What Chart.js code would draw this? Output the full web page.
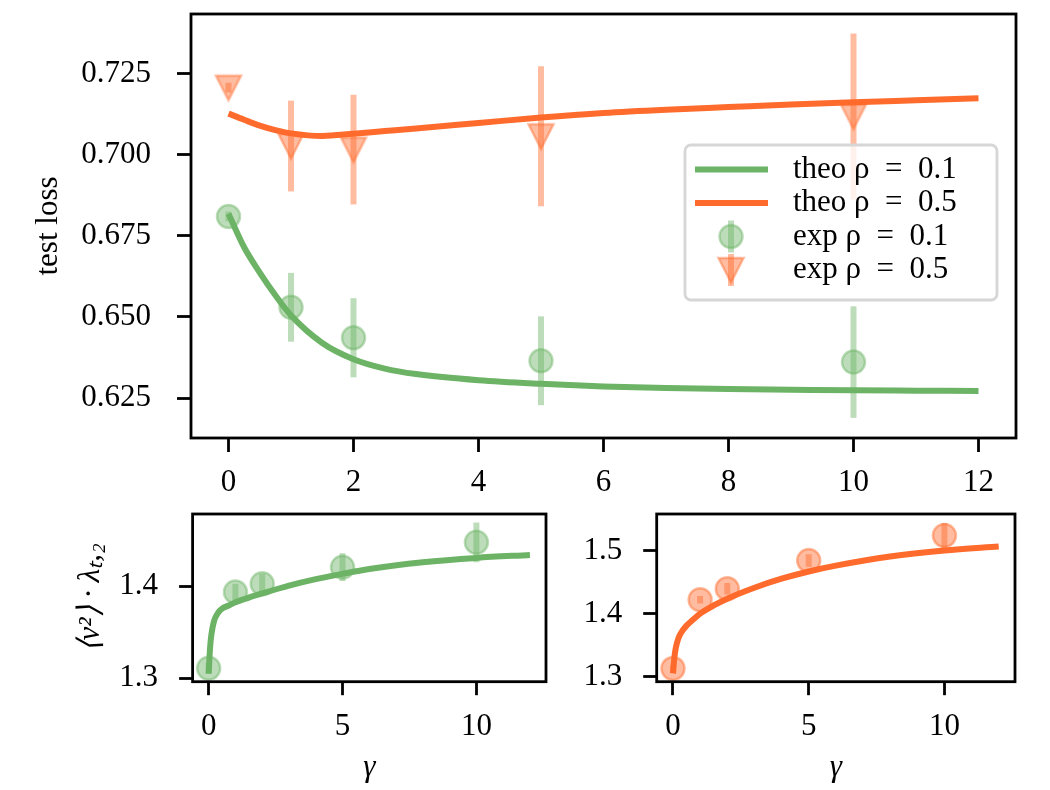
<!DOCTYPE html>
<html>
<head>
<meta charset="utf-8">
<script src="https://cdn.jsdelivr.net/npm/chart.js@4.4.1/dist/chart.umd.min.js"></script>
<style>
  html, body { margin: 0; padding: 0; background: #fff; }
  #wrap { position: relative; width: 1050px; height: 790px; }
  canvas { position: absolute; }
</style>
</head>
<body>
<div id="wrap">
  <canvas id="top-chart" width="1050" height="500" style="left:0px;top:0px"></canvas>
  <canvas id="left-chart" width="560" height="290" style="left:0px;top:500px"></canvas>
  <canvas id="right-chart" width="490" height="290" style="left:560px;top:500px"></canvas>
</div>
<script>
// Data
const gammaExp = [0, 1, 2, 5, 10];

// top panel: test loss
const gammaTheo = [0, 0.25, 0.5, 0.75, 1, 1.5, 2, 2.5, 3, 4, 5, 6, 7, 8, 9, 10, 11, 12];
const theoLoss01 = [0.6818, 0.6715, 0.6637, 0.6567, 0.6505, 0.6420, 0.6370, 0.6341, 0.6324, 0.6305, 0.6294, 0.6286, 0.6281, 0.6278, 0.6276, 0.6274, 0.6273, 0.6272];
const theoLoss05 = [0.7127, 0.7108, 0.7090, 0.7076, 0.7066, 0.7058, 0.7065, 0.7073, 0.7081, 0.7098, 0.7115, 0.7129, 0.7139, 0.7147, 0.7155, 0.7162, 0.7168, 0.7174];
const expLoss01 = [0.6810, 0.6530, 0.6436, 0.6365, 0.6361];
const expLoss01Err = [0.0015, 0.0106, 0.0122, 0.0137, 0.0172];
const expLoss05 = [0.7207, 0.7027, 0.7016, 0.7057, 0.7118];
const expLoss05Err = [0.0015, 0.0140, 0.0169, 0.0216, 0.0256];

// bottom panels: <v^2> * lambda
const gammaTheoSmall = [0, 0.05, 0.1, 0.2, 0.35, 0.5, 0.75, 1, 1.5, 2, 3, 4, 5, 6, 8, 10, 12];
const theoV01 = [1.305, 1.332, 1.347, 1.362, 1.371, 1.3755, 1.379, 1.3825, 1.3875, 1.392, 1.4005, 1.4075, 1.4133, 1.4185, 1.4258, 1.4306, 1.4338];
const theoV05 = [1.3053, 1.330, 1.345, 1.361, 1.373, 1.381, 1.391, 1.400, 1.413, 1.4237, 1.441, 1.4553, 1.4668, 1.476, 1.4905, 1.500, 1.5063];
const expV01 = [1.3108, 1.3935, 1.4025, 1.4205, 1.4475];
const expV01Err = [0.006, 0.009, 0.011, 0.015, 0.0216];
const expV05 = [1.3132, 1.4221, 1.4395, 1.4842, 1.5237];
const expV05Err = [0.004, 0.006, 0.009, 0.010, 0.020];

// ticks
const xTicksTop = [0, 2, 4, 6, 8, 10, 12];
const yTicksTop = [0.625, 0.650, 0.675, 0.700, 0.725];
const xTicksSmall = [0, 5, 10];
const yTicksLeft = [1.3, 1.4];
const yTicksRight = [1.3, 1.4, 1.5];

const GREEN = '108,179,102';
const ORANGE = '255,107,44';
const FONT = "'Liberation Serif', 'Times New Roman', serif";

Chart.defaults.font.family = FONT;
Chart.defaults.font.size = 31;
Chart.defaults.color = '#000';

/**
 * Downward triangle marker (matplotlib 'v'), drawn once to a small canvas
 */
function triangleDown(rgb) {
    const cv = document.createElement('canvas');
    cv.width = 32;
    cv.height = 32;
    const g = cv.getContext('2d');
    g.beginPath();
    g.moveTo(3.5, 4);
    g.lineTo(28.5, 4);
    g.lineTo(16, 28.5);
    g.closePath();
    g.fillStyle = `rgba(${rgb},0.45)`;
    g.fill();
    g.lineWidth = 2.5;
    g.strokeStyle = `rgba(${rgb},0.45)`;
    g.stroke();
    return cv;
}

function lineSet(label, xs, ys, rgb) {
    return {
        label: label,
        data: xs.map((x, i) => ({ x: x, y: ys[i] })),
        showLine: true,
        borderColor: `rgb(${rgb})`,
        borderWidth: 6,
        pointRadius: 0,
        cubicInterpolationMode: 'monotone',
        order: 1
    };
}

function pointSet(label, xs, ys, errs, rgb, style) {
    return {
        label: label,
        data: xs.map((x, i) => ({ x: x, y: ys[i] })),
        errors: errs,
        errorColor: `rgba(${rgb},0.45)`,
        showLine: false,
        pointStyle: style,
        pointRadius: 11.5,
        pointBorderWidth: 2.5,
        pointBackgroundColor: `rgba(${rgb},0.45)`,
        pointBorderColor: `rgba(${rgb},0.45)`,
        order: 0
    };
}

// Frame on all four sides (matplotlib spines)
const frame = {
    id: 'frame',
    afterDraw(chart) {
        const { ctx, chartArea: a } = chart;
        ctx.save();
        ctx.strokeStyle = '#000';
        ctx.lineWidth = 2.8;
        ctx.strokeRect(a.left, a.top, a.right - a.left, a.bottom - a.top);
        ctx.restore();
    }
};

// Vertical error bars, placed just under the markers
const errorBars = {
    id: 'errorBars',
    beforeDatasetDraw(chart, args) {
        const ds = chart.data.datasets[args.index];
        if (!ds.errors) return;
        const { ctx, chartArea: a } = chart;
        const xs = chart.scales.x, ys = chart.scales.y;
        ctx.save();
        ctx.beginPath();
        ctx.rect(a.left, a.top, a.right - a.left, a.bottom - a.top);
        ctx.clip();
        ctx.strokeStyle = ds.errorColor;
        ctx.lineWidth = 6;
        ds.data.forEach((p, i) => {
            const px = xs.getPixelForValue(p.x);
            ctx.beginPath();
            ctx.moveTo(px, ys.getPixelForValue(p.y - ds.errors[i]));
            ctx.lineTo(px, ys.getPixelForValue(p.y + ds.errors[i]));
            ctx.stroke();
        });
        ctx.restore();
    }
};

// Legend box inside the top panel
const legendBox = {
    id: 'legendBox',
    afterDraw(chart) {
        const { ctx, chartArea: a } = chart;
        const left = a.right - 331, top = a.top + 131, w = 312, h = 155;
        ctx.save();
        ctx.beginPath();
        ctx.roundRect(left, top, w, h, 6);
        ctx.fillStyle = 'rgba(255,255,255,0.8)';
        ctx.fill();
        ctx.lineWidth = 2.8;
        ctx.strokeStyle = '#d6d6d6';
        ctx.stroke();

        ctx.font = `31px ${FONT}`;
        ctx.textBaseline = 'middle';
        chart.data.datasets.forEach((ds, i) => {
            const y = top + 24.5 + i * 33.5;
            const cx = left + 46;
            if (ds.showLine) {
                ctx.strokeStyle = ds.borderColor;
                ctx.lineWidth = ds.borderWidth;
                ctx.beginPath();
                ctx.moveTo(left + 10, y);
                ctx.lineTo(left + 83, y);
                ctx.stroke();
            } else {
                ctx.strokeStyle = ds.errorColor;
                ctx.lineWidth = 6;
                ctx.beginPath();
                ctx.moveTo(cx, y - 16);
                ctx.lineTo(cx, y + 16);
                ctx.stroke();
                ctx.fillStyle = ds.pointBackgroundColor;
                ctx.strokeStyle = ds.pointBorderColor;
                ctx.lineWidth = ds.pointBorderWidth;
                Chart.helpers.drawPoint(ctx, {
                    pointStyle: ds.pointStyle, radius: ds.pointRadius,
                    borderWidth: ds.pointBorderWidth, rotation: 0
                }, cx, y);
            }
            ctx.fillStyle = '#000';
            ctx.fillText(ds.label, left + 108, y);
        });
        ctx.restore();
    }
};

function xAxis(o) {
    return {
        type: 'linear',
        min: -0.6,
        max: 12.6,
        afterBuildTicks: s => { s.ticks = o.ticks.map(v => ({ value: v })); },
        afterFit: s => { s.height = o.height; s.paddingLeft = 0; s.paddingRight = 0; },
        border: { display: false },
        grid: { drawOnChartArea: false, tickLength: o.tickLength, tickWidth: 2.8, tickColor: '#000' },
        ticks: { padding: o.pad, maxRotation: 0, autoSkip: false, callback: v => String(v) },
        title: o.title
            ? { display: true, text: o.title, font: { style: 'italic', size: 31 }, padding: { top: 0, bottom: 4 } }
            : { display: false }
    };
}

function yAxis(o) {
    return {
        type: 'linear',
        min: o.min,
        max: o.max,
        afterBuildTicks: s => { s.ticks = o.ticks.map(v => ({ value: v })); },
        afterFit: s => { s.width = o.width; s.paddingTop = 0; s.paddingBottom = 0; },
        border: { display: false },
        grid: { drawOnChartArea: false, tickLength: o.tickLength, tickWidth: 2.8, tickColor: '#000' },
        ticks: { padding: o.pad, autoSkip: false, callback: v => v.toFixed(o.decimals) },
        title: o.title
            ? { display: true, text: o.title, font: { style: o.italic ? 'italic' : 'normal', size: 31 }, padding: { top: o.titlePad, bottom: 0 } }
            : { display: false }
    };
}

function baseOptions(padding, scales) {
    return {
        responsive: false,
        animation: false,
        layout: { padding: padding },
        plugins: { legend: { display: false }, tooltip: { enabled: false } },
        scales: scales
    };
}

// Top panel
new Chart(document.getElementById('top-chart'), {
    type: 'scatter',
    data: {
        datasets: [
            lineSet('theo ρ\u2002=\u20020.1', gammaTheo, theoLoss01, GREEN),
            lineSet('theo ρ\u2002=\u20020.5', gammaTheo, theoLoss05, ORANGE),
            pointSet('exp ρ\u2002=\u20020.1', gammaExp, expLoss01, expLoss01Err, GREEN, 'circle'),
            pointSet('exp ρ\u2002=\u20020.5', gammaExp, expLoss05, expLoss05Err, ORANGE, triangleDown(ORANGE))
        ]
    },
    options: baseOptions({ left: 0, top: 7, right: 34, bottom: 0 }, {
        x: xAxis({ ticks: xTicksTop, height: 62, pad: 12, tickLength: 14 }),
        y: yAxis({ min: 0.6127, max: 0.7434, ticks: yTicksTop, decimals: 3, width: 191, pad: 26, tickLength: 14,
                   title: 'test loss', titlePad: 30 })
    }),
    plugins: [frame, errorBars, legendBox]
});

// Bottom left: rho = 0.1
new Chart(document.getElementById('left-chart'), {
    type: 'scatter',
    data: {
        datasets: [
            lineSet('theo ρ = 0.1', gammaTheoSmall, theoV01, GREEN),
            pointSet('exp ρ = 0.1', gammaExp, expV01, expV01Err, GREEN, 'circle')
        ]
    },
    options: baseOptions({ left: 0, top: 13.3, right: 10.2, bottom: 0 }, {
        x: xAxis({ ticks: xTicksSmall, height: 108.3, pad: 13, tickLength: 13.5, title: 'γ' }),
        y: yAxis({ min: 1.2963, max: 1.4782, ticks: yTicksLeft, decimals: 1, width: 192.6, pad: 21, tickLength: 13.5,
                   title: '⟨v²⟩ · λₜ,₂', titlePad: 72, italic: true })
    }),
    plugins: [frame, errorBars]
});

// Bottom right: rho = 0.5
new Chart(document.getElementById('right-chart'), {
    type: 'scatter',
    data: {
        datasets: [
            lineSet('theo ρ = 0.5', gammaTheoSmall, theoV05, ORANGE),
            pointSet('exp ρ = 0.5', gammaExp, expV05, expV05Err, ORANGE, 'circle')
        ]
    },
    options: baseOptions({ left: 0, top: 13.3, right: 35, bottom: 0 }, {
        x: xAxis({ ticks: xTicksSmall, height: 108.3, pad: 13, tickLength: 13.5, title: 'γ' }),
        y: yAxis({ min: 1.2921, max: 1.5579, ticks: yTicksRight, decimals: 1, width: 96.7, pad: 21, tickLength: 13.5 })
    }),
    plugins: [frame, errorBars]
});
</script>
</body>
</html>
